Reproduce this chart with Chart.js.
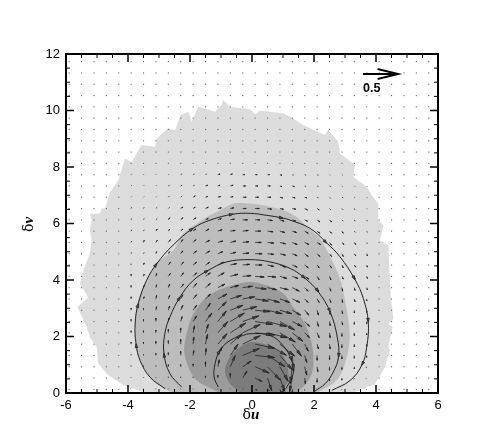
<!DOCTYPE html>
<html>
<head>
<meta charset="utf-8">
<title>Velocity field</title>
<script src="https://cdn.jsdelivr.net/npm/chart.js@4"></script>
<style>
html, body { margin: 0; padding: 0; background: #fff; }
canvas { display: block; }
</style>
</head>
<body>
<canvas id="chart" width="498" height="443"></canvas>
<script>
// axis ticks
const xTicks = [-6, -4, -2, 0, 2, 4, 6];
const yTicks = [0, 2, 4, 6, 8, 10, 12];
const xMinorTicks = [-5.5, -5, -4.5, -3.5, -3, -2.5, -1.5, -1, -0.5, 0.5, 1, 1.5, 2.5, 3, 3.5, 4.5, 5, 5.5];
const yMinorTicks = [0.5, 1, 1.5, 2.5, 3, 3.5, 4.5, 5, 5.5, 6.5, 7, 7.5, 8.5, 9, 9.5, 10.5, 11, 11.5];

// filled levels
const level1X = [-3.4, -4.15, -4.69, -4.96, -5.01, -5.23, -5.33, -5.63, -5.28, -5.55, -5.44, -5.23, -5.17, -5.23, -5.17, -5.23, -4.9, -4.85, -4.74, -4.6, -4.31, -4.1, -3.88, -3.56, -3.13, -3.07, -2.7, -2.48, -2.3, -2.05, -1.95, -1.73, -1.46, -1.19, -0.98, -0.93, -0.71, -0.06, 0.1, 0.26, 1.01, 1.33, 1.65, 2.35, 2.46, 2.78, 2.84, 3.32, 3.27, 3.7, 3.86, 4.07, 4.07, 4.07, 4.24, 4.13, 4.4, 4.43, 4.48, 4.56, 4.4, 4.54, 4.4, 4.45, 4.29, 4.13, 3.97, 3.48, 3.2];
const level1Y = [0, 0.27, 0.68, 1.04, 1.62, 1.98, 2.33, 3.04, 3.38, 3.87, 4.34, 4.94, 5.41, 5.76, 6.12, 6.33, 6.35, 6.53, 6.53, 7.06, 7.54, 8.3, 8.18, 8.78, 8.72, 9.01, 9.37, 9.31, 9.84, 9.96, 9.6, 10.13, 10.04, 9.96, 10.2, 10.37, 10.13, 10.04, 9.88, 9.99, 9.9, 9.72, 9.49, 9.13, 9.31, 8.89, 8.48, 8.07, 7.65, 7.3, 7, 6.71, 6.35, 6.12, 5.94, 5.41, 5.23, 4.34, 3.4, 2.63, 2.45, 2.33, 1.68, 1.51, 0.91, 0.62, 0.33, 0.09, 0];
const level2X = [-2.55, -3.07, -3.45, -3.72, -3.77, -3.67, -3.4, -3.02, -2.54, -2.22, -1.78, -1.46, -1.03, -0.6, -0.06, 0.36, 1.01, 1.44, 1.82, 2.19, 2.52, 2.84, 3, 3.14, 3.14, 3, 2.73, 2.1];
const level2Y = [0, 0.33, 0.8, 1.51, 2.45, 3.28, 3.99, 4.64, 5.05, 5.65, 6, 6.23, 6.47, 6.71, 6.71, 6.65, 6.47, 6.23, 5.82, 5.47, 4.82, 4.05, 3.28, 2.33, 1.74, 1.04, 0.44, 0];
const level3X = [-1.05, -1.78, -2.05, -2.19, -2.11, -1.89, -1.46, -0.82, -0.06, 0.47, 1.01, 1.33, 1.71, 1.93, 1.98, 1.82, 1.45];
const level3Y = [0, 0.44, 0.91, 1.51, 2.1, 2.81, 3.4, 3.75, 3.93, 3.81, 3.52, 3.04, 2.45, 1.74, 0.91, 0.44, 0];
const level4X = [-0.35, -0.71, -0.87, -0.71, -0.39, -0.06, 0.36, 0.9, 1.12, 1.17, 0.9];
const level4Y = [0, 0.33, 0.8, 1.27, 1.62, 1.8, 1.74, 1.45, 1.04, 0.44, 0];

// streamlines
const stream1X = [-2.8, -3.29, -3.61, -3.74, -3.77, -3.67, -3.4, -3.07, -2.55, -1.9, -1.35, -0.61, -0.06, 0.47, 1, 1.23, 1.87, 2.41, 2.84, 3.32, 3.59, 3.75, 3.7, 3.54, 3.16, 2.57];
const stream1Y = [0.15, 0.56, 1.15, 1.74, 2.45, 3.16, 3.99, 4.58, 5.23, 5.83, 6.12, 6.33, 6.36, 6.29, 6.19, 6.12, 5.83, 5.31, 4.82, 4.02, 3.35, 2.51, 1.62, 0.98, 0.44, 0.09];
const stream2X = [-2.27, -2.65, -2.84, -2.81, -2.65, -2.32, -1.89, -1.41, -0.82, -0.06, 0.58, 1.23, 1.71, 2.14, 2.52, 2.75, 2.79, 2.62, 2.36, 2.03];
const stream2Y = [0.21, 0.69, 1.4, 2.11, 2.69, 3.4, 3.99, 4.34, 4.64, 4.72, 4.64, 4.41, 4.06, 3.58, 2.87, 1.98, 1.27, 0.74, 0.33, 0.07];
const stream3X = [-1.09, -1.22, -1.19, -1.03, -0.71, -0.28, -0.06, 0.58, 1, 1.28, 1.33, 1.12, 0.99];
const stream3Y = [0.21, 0.56, 1.04, 1.51, 1.86, 2.04, 2.1, 2.04, 1.68, 1.15, 0.69, 0.21, 0.05];
const stream1Heads = [3, 5, 7, 9, 11, 14, 17, 19, 21, 23];
const stream2Heads = [2, 5, 7, 12, 13, 14, 16];
const stream3Heads = [3, 7, 9];

// vector grid
const gridX = [-5.9, -5.5, -5.1, -4.7, -4.3, -3.9, -3.5, -3.1, -2.7, -2.3, -1.9, -1.5, -1.1, -0.7, -0.3, 0.1, 0.5, 0.9, 1.3, 1.7, 2.1, 2.5, 2.9, 3.3, 3.7, 4.1, 4.5, 4.9, 5.3, 5.7];
const gridY = [0.13, 0.53, 0.93, 1.33, 1.73, 2.13, 2.53, 2.93, 3.33, 3.73, 4.13, 4.53, 4.93, 5.33, 5.73, 6.13, 6.53, 6.93, 7.33, 7.73, 8.13, 8.53, 8.93, 9.33, 9.73, 10.13, 10.53, 10.93, 11.33, 11.73];

// u and v in hundredths, rows for gridY 7.73 down to 0.13, columns for gridX -3.9 to 3.7
const tableU = [
  [1,1,1,1,2,2,2,3,3,3,3,3,3,2,2,2,1,1,1,1],
  [1,1,1,2,2,2,3,3,4,4,4,4,3,3,2,2,2,1,1,1],
  [1,1,1,2,2,3,3,4,4,5,5,5,4,4,3,2,2,2,1,1],
  [1,1,2,2,3,3,4,5,5,5,6,6,5,5,4,3,2,2,1,1],
  [1,1,2,2,3,4,4,5,6,7,7,7,6,5,4,4,3,2,1,1],
  [1,1,2,2,3,4,5,6,7,8,8,8,7,6,5,4,3,2,2,1],
  [1,1,2,3,3,4,6,7,8,9,9,9,8,7,6,5,3,3,2,1],
  [1,1,1,2,3,5,6,7,8,9,10,9,8,7,5,4,3,2,2,1],
  [0,1,1,3,4,5,6,8,9,10,10,9,8,7,5,3,3,2,2,1],
  [0,1,1,3,4,5,7,9,11,12,13,12,10,8,6,3,2,2,1,1],
  [0,1,1,2,4,5,7,10,12,14,16,13,12,10,5,2,2,1,1,1],
  [0,1,1,2,3,5,7,13,16,17,19,17,14,11,5,3,2,1,1,0],
  [0,0,1,2,3,5,7,12,18,20,21,21,17,12,6,2,1,1,0,0],
  [0,0,0,1,2,5,9,12,20,23,25,27,21,14,7,2,1,1,0,0],
  [0,0,0,0,0,2,4,14,22,25,28,28,22,15,7,3,1,0,0,0],
  [0,0,0,0,0,1,3,13,17,25,28,27,21,13,5,2,1,0,0,0],
  [0,0,0,0,0,1,1,6,11,24,28,25,18,2,3,0,0,0,0,0],
  [0,0,0,0,0,0,0,2,7,12,20,18,12,-3,3,1,0,0,0,-1],
  [0,0,0,0,0,0,0,0,0,6,10,6,7,-4,1,0,0,0,-1,-1],
  [-1,0,0,0,0,0,0,0,0,1,3,3,2,0,0,0,-1,-1,-1,-1]
];
const tableV = [
  [1,1,1,1,1,1,1,1,1,0,0,0,-1,-1,-1,-1,-1,-1,-1,-1],
  [1,1,1,1,1,1,1,1,1,0,0,0,-1,-1,-1,-1,-1,-1,-1,-1],
  [1,1,1,2,2,2,1,1,1,0,0,0,-1,-1,-1,-1,-2,-1,-1,-1],
  [2,2,2,2,2,2,2,1,1,0,0,-1,-1,-1,-2,-2,-2,-2,-2,-1],
  [2,2,2,3,3,3,2,2,1,0,0,-1,-2,-2,-2,-3,-3,-2,-2,-2],
  [2,2,3,3,3,3,3,2,1,1,0,-1,-2,-2,-3,-3,-3,-3,-2,-2],
  [2,3,3,4,4,4,3,2,2,1,0,-1,-2,-3,-3,-3,-4,-3,-3,-2],
  [2,2,3,3,4,4,4,3,2,1,0,-1,-2,-3,-4,-4,-4,-4,-3,-3],
  [2,3,3,4,4,4,4,4,2,1,0,-2,-3,-3,-4,-4,-4,-4,-3,-3],
  [3,3,4,4,5,5,5,5,3,1,-1,-1,-3,-3,-4,-5,-5,-4,-4,-3],
  [3,3,4,5,5,6,6,5,3,2,-2,-3,-3,-5,-5,-6,-5,-5,-4,-3],
  [3,3,5,5,6,6,7,7,5,3,-3,-5,-5,-5,-5,-5,-5,-5,-4,-3],
  [3,3,5,6,7,7,10,12,7,5,-2,-5,-5,-7,-7,-7,-6,-5,-4,-3],
  [3,3,5,5,7,8,12,15,12,8,-4,-7,-12,-7,-7,-7,-6,-5,-4,-3],
  [3,3,4,5,7,10,12,16,14,12,-3,-7,-13,-12,-7,-7,-7,-5,-4,-3],
  [3,3,4,5,7,10,14,15,15,12,-6,-16,-17,-17,-10,-7,-7,-5,-4,-3],
  [2,2,3,4,6,7,10,12,16,10,-3,-16,-21,-22,-10,-7,-6,-5,-4,-3],
  [2,2,2,3,3,4,7,10,16,8,-9,-19,-21,-24,-12,-7,-5,-4,-3,-2],
  [1,1,1,2,2,2,3,4,7,10,-5,-18,-19,-20,-8,-6,-4,-3,-2,-1],
  [1,1,1,1,1,1,1,1,1,1,-1,-2,-4,-4,-2,-1,-1,-1,-1,-1]
];
const tableFirstCol = 5;   // gridX index of -3.9
const tableTopRow = 19;    // gridY index of 7.73

// reference vector
const keyX = 3.58, keyY = 11.29, keyU = 0.5, keyLabel = '0.5';
const pxPerUnit = 70;      // arrow pixels for a magnitude of 1

function pts(xs, ys) { return xs.map((x, i) => ({ x: x, y: ys[i] })); }

function arrow(ctx, x0, y0, dx, dy, head, spread, filled) {
  const len = Math.hypot(dx, dy);
  const x1 = x0 + dx, y1 = y0 + dy;
  ctx.beginPath();
  ctx.moveTo(x0, y0);
  ctx.lineTo(x1, y1);
  ctx.stroke();
  if (len > 2) {
    const a = Math.atan2(dy, dx);
    ctx.beginPath();
    ctx.moveTo(x1 - head * Math.cos(a - spread), y1 - head * Math.sin(a - spread));
    ctx.lineTo(x1, y1);
    ctx.lineTo(x1 - head * Math.cos(a + spread), y1 - head * Math.sin(a + spread));
    if (filled) {
      ctx.closePath();
      ctx.fill();
    }
    ctx.stroke();
  }
}

const fieldPlugin = {
  id: 'field',
  beforeDatasetsDraw(chart) {
    // filled levels
    const ctx = chart.ctx;
    chart.data.datasets.forEach((ds, i) => {
      if (!ds.levelFill) return;
      const meta = chart.getDatasetMeta(i);
      ctx.save();
      ctx.fillStyle = ds.levelFill;
      ctx.beginPath();
      meta.dataset.path(ctx);
      ctx.closePath();
      ctx.fill();
      ctx.restore();
    });
  },
  afterDatasetsDraw(chart) {
    const ctx = chart.ctx;
    const sx = chart.scales.x, sy = chart.scales.y;
    const area = chart.chartArea;
    ctx.save();

    // vector grid
    ctx.strokeStyle = '#222';
    ctx.lineWidth = 0.8;
    gridY.forEach((y, r) => {
      gridX.forEach((x, c) => {
        const row = tableU[tableTopRow - r];
        const cell = row ? row[c - tableFirstCol] : undefined;
        const px = sx.getPixelForValue(x), py = sy.getPixelForValue(y);
        if (cell === undefined || (cell === 0 && tableV[tableTopRow - r][c - tableFirstCol] === 0)) {
          ctx.fillStyle = '#666';
          ctx.fillRect(px - 0.5, py - 0.5, 1.1, 1.1);
          return;
        }
        const u = cell / 100, v = tableV[tableTopRow - r][c - tableFirstCol] / 100;
        const len = Math.hypot(u, v) * pxPerUnit;
        ctx.fillStyle = '#444';
        arrow(ctx, px, py, u * pxPerUnit, -v * pxPerUnit, Math.min(6.5, len * 0.42), 0.2, true);
      });
    });

    // small heads on the streamlines
    chart.data.datasets.forEach((ds, i) => {
      if (!ds.heads) return;
      const data = chart.getDatasetMeta(i).data;
      ds.heads.forEach(k => {
        const a = Math.atan2(data[k + 1].y - data[k - 1].y, data[k + 1].x - data[k - 1].x);
        ctx.fillStyle = '#555';
        arrow(ctx, data[k].x - 4 * Math.cos(a), data[k].y - 4 * Math.sin(a), 4 * Math.cos(a), 4 * Math.sin(a), 4, 0.35, true);
      });
    });

    // reference arrow and its label
    const kx = sx.getPixelForValue(keyX), ky = sy.getPixelForValue(keyY);
    ctx.strokeStyle = '#000';
    ctx.lineWidth = 2;
    arrow(ctx, kx, ky, keyU * pxPerUnit, 0, 21, 0.24, false);
    ctx.fillStyle = '#000';
    ctx.font = 'bold 12.5px "Liberation Sans"';
    ctx.textAlign = 'left';
    ctx.textBaseline = 'middle';
    ctx.fillText(keyLabel, kx, ky + 14.5);

    // frame and inward ticks on all four sides
    ctx.lineWidth = 1.5;
    const tick = (x0, y0, x1, y1) => { ctx.beginPath(); ctx.moveTo(x0, y0); ctx.lineTo(x1, y1); ctx.stroke(); };
    xTicks.forEach(v => { const p = sx.getPixelForValue(v); tick(p, area.bottom, p, area.bottom - 8); tick(p, area.top, p, area.top + 8); });
    yTicks.forEach(v => { const p = sy.getPixelForValue(v); tick(area.left, p, area.left + 8, p); tick(area.right, p, area.right - 8, p); });
    ctx.lineWidth = 1;
    xMinorTicks.forEach(v => { const p = sx.getPixelForValue(v); tick(p, area.bottom, p, area.bottom - 4); tick(p, area.top, p, area.top + 4); });
    yMinorTicks.forEach(v => { const p = sy.getPixelForValue(v); tick(area.left, p, area.left + 4, p); tick(area.right, p, area.right - 4, p); });
    ctx.lineWidth = 2;
    ctx.strokeRect(area.left, area.top, area.right - area.left, area.bottom - area.top);
    ctx.restore();

    // axis titles, greek letter upright and the variable bold italic
    drawTitle(ctx, 'u', (area.left + area.right) / 2 - 1, 415, 0);
    drawTitle(ctx, 'v', 29, (area.top + area.bottom) / 2 + 1, -Math.PI / 2);
  }
};

function drawTitle(ctx, name, x, y, angle) {
  ctx.save();
  ctx.translate(x, y);
  ctx.rotate(angle);
  ctx.fillStyle = '#000';
  ctx.textBaseline = 'middle';
  ctx.textAlign = 'left';
  ctx.font = '14px "DejaVu Serif"';
  const w = ctx.measureText('δ').width;
  ctx.font = 'bold italic 15px "Liberation Serif"';
  const w2 = ctx.measureText(name).width;
  ctx.font = '14px "DejaVu Serif"';
  ctx.fillText('δ', -(w + w2) / 2, 0);
  ctx.font = 'bold italic 15px "Liberation Serif"';
  ctx.fillText(name, -(w + w2) / 2 + w, 0);
  ctx.restore();
}

function levelSet(xs, ys, colour, tension) {
  return { data: pts(xs, ys), levelFill: colour, showLine: true, tension: tension,
           borderWidth: 0, borderColor: 'transparent', pointRadius: 0, order: 3 };
}

function streamSet(xs, ys, heads) {
  return { data: pts(xs, ys), heads: heads, showLine: true, tension: 0.4, fill: false,
           borderWidth: 1, borderColor: '#222', pointRadius: 0, order: 1 };
}

new Chart(document.getElementById('chart'), {
  type: 'scatter',
  data: {
    datasets: [
      levelSet(level1X, level1Y, '#dcdcdc', 0),
      levelSet(level2X, level2Y, '#bdbdbd', 0.3),
      levelSet(level3X, level3Y, '#9b9b9b', 0.3),
      levelSet(level4X, level4Y, '#7c7c7c', 0.3),
      streamSet(stream1X, stream1Y, stream1Heads),
      streamSet(stream2X, stream2Y, stream2Heads),
      streamSet(stream3X, stream3Y, stream3Heads)
    ]
  },
  options: {
    responsive: false,
    animation: false,
    layout: { padding: { top: 54, right: 60, left: 0, bottom: 0 } },
    plugins: { legend: { display: false }, tooltip: { enabled: false } },
    scales: {
      x: {
        type: 'linear', min: -6, max: 6,
        grid: { display: false, drawTicks: false }, border: { display: false },
        afterBuildTicks: axis => { axis.ticks = xTicks.map(v => ({ value: v })); },
        afterFit: axis => { axis.height = 50; },
        ticks: { color: '#000', padding: 5, maxRotation: 0, autoSkip: false,
                 font: { family: '"Liberation Sans"', size: 13 } }
      },
      y: {
        type: 'linear', min: 0, max: 12,
        grid: { display: false, drawTicks: false }, border: { display: false },
        afterBuildTicks: axis => { axis.ticks = yTicks.map(v => ({ value: v })); },
        afterFit: axis => { axis.width = 66; },
        ticks: { color: '#000', padding: 6, autoSkip: false,
                 font: { family: '"Liberation Sans"', size: 13 } }
      }
    }
  },
  plugins: [fieldPlugin]
});
</script>
</body>
</html>
